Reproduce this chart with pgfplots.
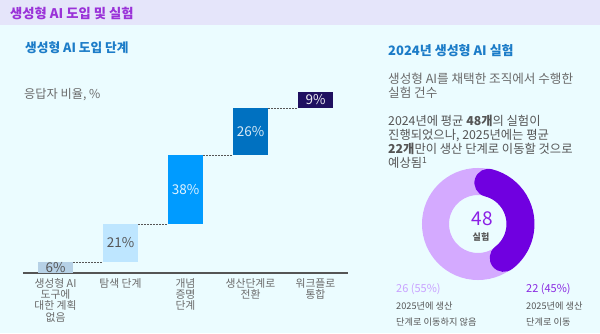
\documentclass[border=0pt]{standalone}
\usepackage{pgfplots}
\pgfplotsset{compat=1.18}
\usepackage{fontspec}
\setmainfont{Noto Sans CJK KR}
\definecolor{hdrbg}{HTML}{E5E5FA}
\definecolor{bodybg}{HTML}{EBFCFF}
\definecolor{hdrtxt}{HTML}{9A32D8}
\definecolor{ttlblue}{HTML}{1C7CC8}
\definecolor{txtgray}{HTML}{6A6A6A}
\definecolor{txtdark}{HTML}{555555}
\definecolor{c1}{HTML}{B6D1E6}
\definecolor{c2}{HTML}{BEE6FF}
\definecolor{c3}{HTML}{009BFF}
\definecolor{c4}{HTML}{0071C1}
\definecolor{c5}{HTML}{1F1060}
\definecolor{ringlight}{HTML}{D4AAFF}
\definecolor{ringdark}{HTML}{7000E0}
\definecolor{numpurple}{HTML}{8B1FE6}
\definecolor{lblight}{HTML}{C9A2FF}
\definecolor{lbdark}{HTML}{8A2BE2}
\newcommand{\fs}[2]{\fontsize{#1}{#2}\selectfont}
\begin{document}
\begin{tikzpicture}[x=1pt,y=1pt]
\useasboundingbox (0,0) rectangle (600,333);
\fill[bodybg] (0,0) rectangle (600,333);
\fill[hdrbg] (0,308) rectangle (600,333);
\node[anchor=west, text=hdrtxt, font=\fs{13.3}{15}\bfseries, inner sep=0] at (10,320) {생성형 AI 도입 및 실험};
\node[anchor=west, text=ttlblue, font=\fs{12.7}{14}\bfseries, inner sep=0] at (25,285) {생성형 AI 도입 단계};
\node[anchor=west, text=txtgray, font=\fs{12.2}{14}, inner sep=0] at (24,238) {응답자 비율, \%};

\begin{axis}[
  at={(23pt,60pt)}, anchor=south west,
  scale only axis, width=325pt, height=181pt,
  xmin=-0.5, xmax=4.5, ymin=0, ymax=100,
  ybar stacked, bar width=35pt,
  axis x line=bottom, axis y line=none,
  x axis line style={draw=txtdark, line width=1.4pt, -},
  xtick={0,1,2,3,4}, major tick length=0pt,
  xticklabels={{생성형 AI\\도구에\\대한 계획\\없음},{탐색 단계},{개념\\증명\\단계},{생산단계로\\전환},{워크플로\\통합}},
  xticklabel style={align=center, font=\fs{10.8}{11.3}, text=txtgray, inner sep=0pt, yshift=-5pt},
  clip=false,
]
\addplot[draw=none, fill=none] coordinates {(0,0) (1,6) (2,27) (3,65) (4,91)};
\addplot[draw=none, fill=c1] coordinates {(0,6) (1,0) (2,0) (3,0) (4,0)};
\addplot[draw=none, fill=c2] coordinates {(0,0) (1,21) (2,0) (3,0) (4,0)};
\addplot[draw=none, fill=c3] coordinates {(0,0) (1,0) (2,38) (3,0) (4,0)};
\addplot[draw=none, fill=c4] coordinates {(0,0) (1,0) (2,0) (3,26) (4,0)};
\addplot[draw=none, fill=c5] coordinates {(0,0) (1,0) (2,0) (3,0) (4,9)};
\addplot[stack plots=false, sharp plot, no marks, draw=txtdark, line width=0.7pt, dash pattern=on 1.8pt off 1.2pt, unbounded coords=jump, forget plot]
  coordinates {(0.27,6) (0.73,6) (1,nan) (1.27,27) (1.73,27) (2,nan) (2.27,65) (2.73,65) (3,nan) (3.27,91) (3.73,91)};
\end{axis}
% value labels (bar centres: x = 23 + 65(k+0.5); y = 60 + 1.81*value)
\node[font=\fs{13.5}{15}, text=txtdark, inner sep=0] at (55.5,65.8) {6\%};
\node[font=\fs{13.5}{15}, text=txtdark, inner sep=0] at (120.5,90) {21\%};
\node[font=\fs{13.5}{15}, text=white!88!c3, inner sep=0] at (185.5,143.3) {38\%};
\node[font=\fs{13.5}{15}, text=white!85!c4, inner sep=0] at (250.5,201.2) {26\%};
\node[font=\fs{13.5}{15}, text=white!92!c5, inner sep=0] at (315.5,233) {9\%};

% right panel
\node[anchor=west, text=ttlblue, font=\fs{13}{15}\bfseries, inner sep=0] at (388,282) {2024년 생성형 AI 실험};
\node[anchor=north west, text=txtgray, font=\fs{12.6}{13.5}, inner sep=0, align=left] at (388,260) {생성형 AI를 채택한 조직에서 수행한\\실험 건수};
\node[anchor=north west, text=txtdark, font=\fs{12.3}{14.1}, inner sep=0, align=left] at (388,218.5) {2024년에 평균 \textbf{48개}의 실험이\\진행되었으나, 2025년에는 평균\\\textbf{22개}만이 생산 단계로 이동할 것으로\\예상됨\textsuperscript{1}};

% donut from data: 26 not moved, 22 moved (total 48)
\def\notmoved{26}\def\moved{22}
\pgfmathsetmacro{\darkang}{360*\moved/(\moved+\notmoved)}
\pgfmathsetmacro{\capang}{(13.5/42.5)*180/3.14159}
\pgfmathsetmacro{\startang}{90-\capang+4}
\pgfmathsetmacro{\endang}{\startang-(\darkang-2*\capang)}
\draw[ringlight, line width=27pt] (478,109) circle[radius=42.5];
\draw[ringdark, line width=28pt, line cap=round] ([shift={(\startang:42.5)}]478,109) arc[start angle=\startang, end angle=\endang, radius=42.5];
\node[text=numpurple, font=\fs{19}{20}] at (482,114) {48};
\node[text=txtdark, font=\fs{9}{10}\bfseries] at (481,96) {실험};

\node[anchor=west, text=lblight, font=\fs{11}{13}, inner sep=0] at (396,44) {26 (55\%)};
\node[anchor=west, text=lbdark, font=\fs{11}{13}, inner sep=0] at (526,44) {22 (45\%)};
\node[anchor=north west, text=txtdark, font=\fs{9.2}{16}, inner sep=0, align=left] at (396,31) {2025년에 생산\\단계로 이동하지 않음};
\node[anchor=north west, text=txtdark, font=\fs{9.2}{16}, inner sep=0, align=left] at (526,31) {2025년에 생산\\단계로 이동};
\end{tikzpicture}
\end{document}
